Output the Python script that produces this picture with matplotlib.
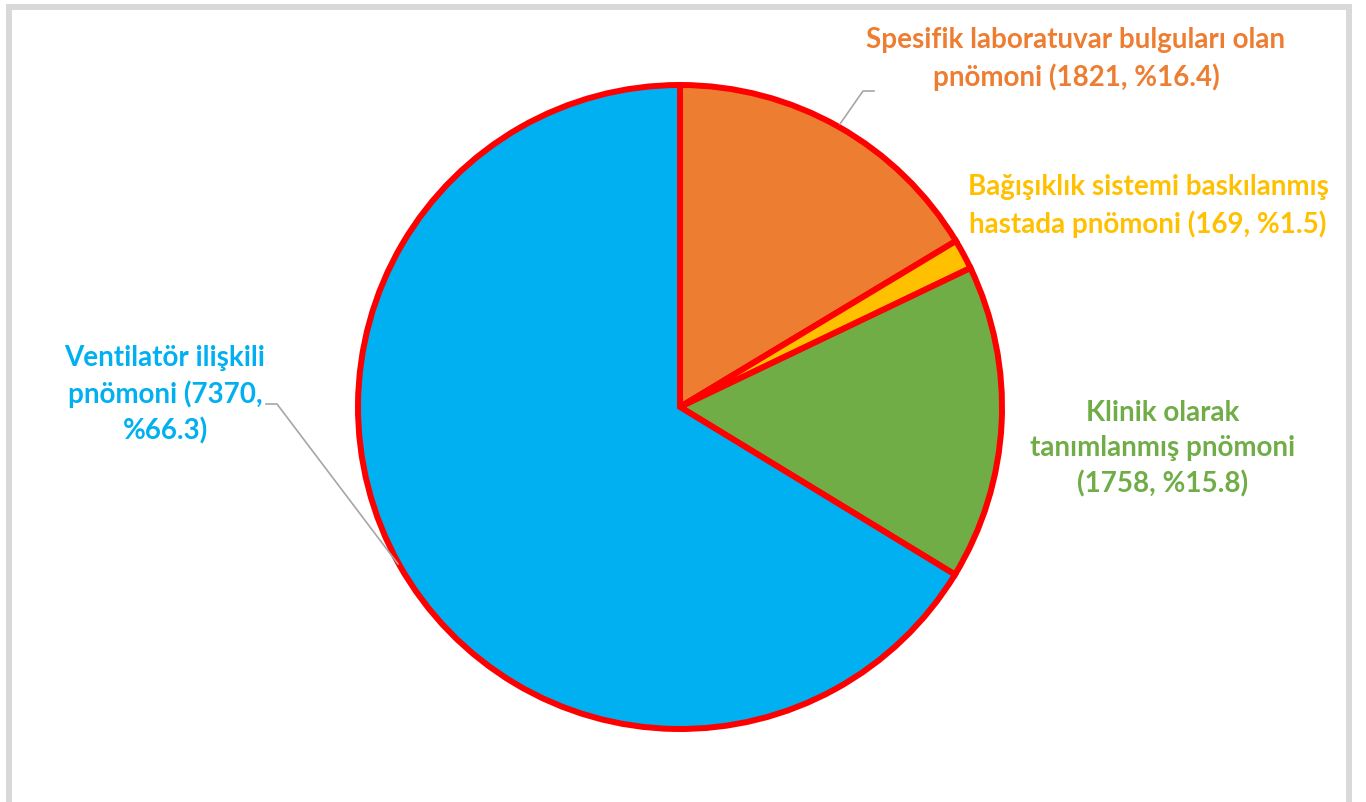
import matplotlib.pyplot as plt
from matplotlib.patches import Rectangle

# pie data (clockwise from 12 o'clock)
labels = [
    "Spesifik laboratuvar bulguları olan\npnömoni (1821, %16.4)",
    "Bağışıklık sistemi baskılanmış\nhastada pnömoni (169, %1.5)",
    "Klinik olarak\ntanımlanmış pnömoni\n(1758, %15.8)",
    "Ventilatör ilişkili\npnömoni (7370,\n%66.3)",
]
counts = [1821, 169, 1758, 7370]
colors = ["#ED7D31", "#FFC000", "#70AD47", "#00B0F0"]

plt.rcParams["font.family"] = ["Lato", "DejaVu Sans"]

W, H = 1366, 803
fig = plt.figure(figsize=(W / 100, H / 100), dpi=100)
ax = fig.add_axes([0, 0, 1, 1])

# outer frame of the chart area
fig.patches.append(Rectangle((9 / W, -0.05), (1349 - 9) / W, 1.05 - 8 / H,
                             transform=fig.transFigure, fill=False,
                             edgecolor="#D9D9D9", linewidth=4.3))

cx, cy, r = 680, H - 408, 322
ax.pie(counts, colors=colors, startangle=90, counterclock=False,
       center=(cx, cy), radius=r, frame=True,
       wedgeprops=dict(edgecolor="#FF0000", linewidth=4.3))
ax.set_xlim(0, W)
ax.set_ylim(0, H)
ax.axis("off")

# label positions (pixel coords, y from top)
label_pos = [(1076, 59), (1148, 206), (1163, 449), (165, 395)]
for lab, col, (x, y) in zip(labels, colors, label_pos):
    ax.text(x, H - y, lab, color=col, ha="center", va="center",
            fontsize=20, fontweight="bold", linespacing=1.42)

# leader lines
ax.plot([840, 863, 874], [H - 125, H - 92, H - 92], color="#A6A6A6", lw=1.2)
ax.plot([398, 277, 266], [H - 565, H - 405, H - 405], color="#A6A6A6", lw=1.2)

fig.savefig("out.png", dpi=100, facecolor="white")
